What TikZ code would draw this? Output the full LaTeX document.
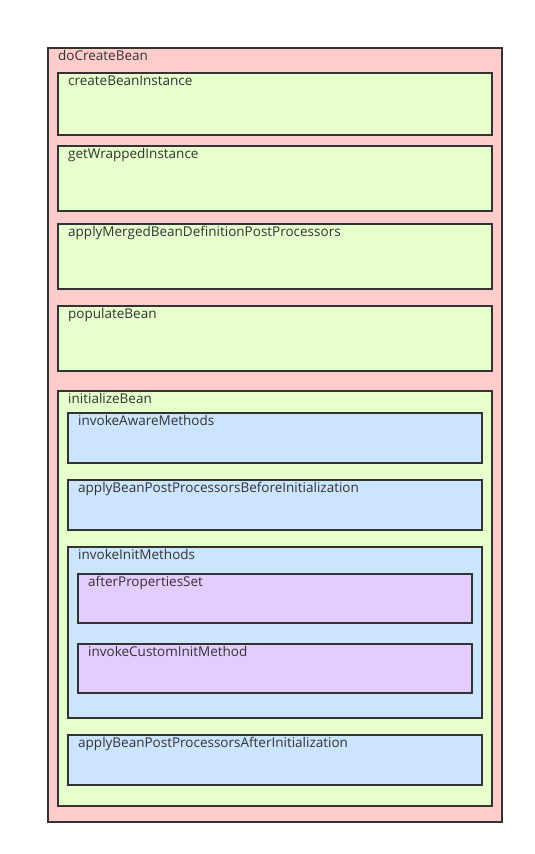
\documentclass[tikz,border=0pt]{standalone}
\usepackage{fontspec}
\setmainfont{Open Sans}
\definecolor{edge}{HTML}{333333}
\definecolor{pinkc}{HTML}{FFCCCC}
\definecolor{greenc}{HTML}{E6FFCC}
\definecolor{bluec}{HTML}{CCE5FF}
\definecolor{purplec}{HTML}{E5CCFF}
\tikzset{
  box/.style={draw=edge, line width=2pt},
  lbl/.style={anchor=north west, inner sep=0pt, font=\fontsize{13.5}{15}\selectfont, text=edge},
}
\newcommand{\mybox}[7]{% name, x1, y1, x2, y2, fill, label
  \path[box, fill=#6] (#2,#3) rectangle (#4,#5);
  \coordinate (#1) at (#2,#3);
  \node[lbl] (#1-t) at ([xshift=10pt,yshift=-2pt]#1) {\strut #7};
}
\begin{document}
\begin{tikzpicture}[x=1pt,y=-1pt]
\useasboundingbox (0,0) rectangle (535,854);
\fill[white] (0,0) rectangle (535,854);
\mybox{dcb}{48}{48}{502}{822}{pinkc}{doCreateBean}
\mybox{cbi}{58}{73}{492}{135}{greenc}{createBeanInstance}
\mybox{gwi}{58}{146}{492}{211}{greenc}{getWrappedInstance}
\mybox{amb}{58}{224}{492}{289}{greenc}{applyMergedBeanDefinitionPostProcessors}
\mybox{pb}{58}{306}{492}{371}{greenc}{populateBean}
\mybox{ib}{58}{391}{492}{806}{greenc}{initializeBean}
\mybox{iam}{68}{413}{482}{463}{bluec}{invokeAwareMethods}
\mybox{abi}{68}{480}{482}{530}{bluec}{applyBeanPostProcessorsBeforeInitialization}
\mybox{iim}{68}{547}{482}{718}{bluec}{invokeInitMethods}
\mybox{aps}{78}{574}{472}{623}{purplec}{afterPropertiesSet}
\mybox{icm}{78}{644}{472}{693}{purplec}{invokeCustomInitMethod}
\mybox{aai}{68}{735}{482}{785}{bluec}{applyBeanPostProcessorsAfterInitialization}
\end{tikzpicture}
\end{document}
